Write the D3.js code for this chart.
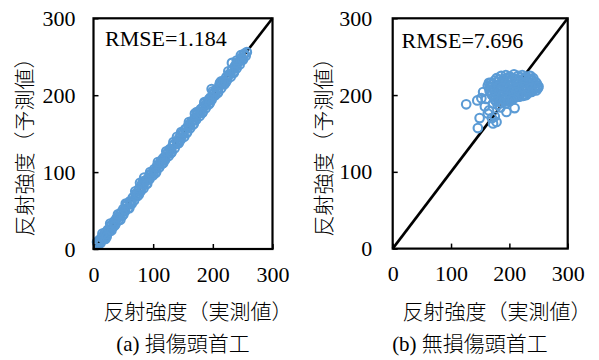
<!DOCTYPE html>
<html>
<head>
<meta charset="utf-8">
<script src="https://cdn.jsdelivr.net/npm/d3@7"></script>
<style>
  body { margin: 0; background: #fff; }
  svg { display: block; }
  text { font-family: "Liberation Serif", "Noto Sans CJK JP", serif; fill: #000; }
  .cjk { font-weight: 300; }
</style>
</head>
<body>
<div id="chart"></div>
<script>
// axis ticks (both panels share 0..300)
const ticks = [0, 100, 200, 300];

// (a) damaged headworks: measured vs predicted intensity
const leftActual = [6, 8, 10, 12, 14, 17, 19, 22, 24, 27, 29, 32, 35, 37, 40, 42, 45, 48, 50, 53,
  55, 58, 61, 63, 66, 68, 71, 74, 76, 79, 81, 84, 87, 89, 92, 94, 97, 100, 102, 105,
  107, 110, 113, 115, 118, 120, 123, 126, 128, 131, 133, 136, 139, 141, 144, 146, 149, 152, 154, 157,
  159, 162, 165, 167, 170, 172, 175, 178, 180, 183, 185, 188, 191, 193, 196, 198, 201, 204, 206, 209,
  211, 214, 217, 219, 222, 224, 227, 230, 232, 235, 237, 240, 243, 245, 248, 250, 253, 255, 257, 198, 232, 186, 212, 247,
  7, 11, 15, 20, 25, 30, 34, 38, 43, 47, 52, 57, 62, 67, 72, 77, 82, 86, 91, 96,
  101, 106, 111, 116, 121, 125, 130, 135, 140, 145, 150, 155, 160, 164, 169, 174, 179, 184, 189, 194,
  199, 203, 208, 213, 218, 223, 228, 233, 238, 242, 247, 252,
  20, 30, 45, 60, 78, 85, 140, 170,
  15, 28, 41, 54, 70, 83, 95, 108, 122, 134, 147, 160, 173, 186, 200, 214, 226, 240,
  22, 36, 50, 64, 76, 90, 104, 117, 130, 143, 156, 168, 182, 195, 208, 222, 236, 250];
const leftPred = [9, 6, 12, 8, 15, 13, 21, 18, 25, 23, 31, 28, 36, 33, 41, 38, 46, 43, 52, 49,
  57, 53, 62, 59, 67, 63, 72, 69, 78, 75, 84, 79, 89, 85, 93, 91, 98, 96, 104, 100,
  109, 106, 114, 111, 119, 116, 124, 121, 130, 126, 135, 131, 140, 137, 145, 142, 151, 146, 156, 152,
  161, 157, 166, 162, 171, 168, 177, 173, 182, 178, 186, 183, 192, 188, 197, 194, 202, 200, 207, 204,
  213, 209, 218, 214, 222, 220, 227, 224, 233, 229, 238, 235, 243, 240, 249, 246, 254, 251, 256, 208, 242, 190, 216, 252,
  7, 10, 16, 19, 24, 30, 33, 39, 42, 48, 51, 57, 61, 67, 71, 78, 81, 87, 90, 97,
  100, 106, 110, 117, 120, 126, 129, 136, 139, 145, 149, 156, 159, 165, 168, 175, 178, 185, 188, 195,
  198, 204, 207, 214, 217, 224, 227, 234, 237, 243, 246, 253,
  13, 24, 38, 53, 86, 93, 146, 176,
  20, 33, 45, 59, 75, 88, 100, 113, 127, 139, 152, 165, 178, 191, 205, 218, 231, 245,
  16, 31, 45, 59, 71, 85, 99, 112, 125, 138, 151, 163, 177, 190, 203, 217, 231, 246];

// (b) undamaged headworks
const rightActual = [186, 194, 201, 208, 215, 222, 229, 236, 241,
  168, 175, 182, 189, 196, 203, 210, 217, 224, 231, 238, 245,
  163, 170, 177, 184, 191, 198, 205, 212, 219, 226, 233, 240, 248,
  166, 173, 180, 187, 194, 201, 208, 215, 222, 229, 236, 243, 249,
  170, 177, 184, 191, 198, 205, 212, 219, 226, 233, 238,
  175, 182, 189, 196, 203, 210, 217, 224,
  172, 180, 187, 194, 201,
  178, 190, 198, 205, 212, 219, 226, 233, 239,
  165, 172, 179, 186, 193, 200, 207, 214, 221, 228, 235, 242, 247,
  166, 174, 181, 188, 195, 202, 209, 216, 223, 230, 237, 244, 250,
  168, 176, 183, 190, 197, 204, 211, 218, 225, 232, 239, 246,
  173, 180, 187, 194, 201, 208, 215, 222, 229,
  177, 184, 191, 198, 205,
  126, 145, 149, 146, 172, 178, 209, 195, 158, 163, 155, 165, 170, 185, 152, 160, 175];
const rightPred = [225, 226, 224, 227, 225, 226, 224, 225, 222,
  216, 219, 220, 218, 221, 219, 220, 218, 221, 219, 220, 217,
  212, 214, 213, 212, 214, 213, 212, 214, 213, 212, 214, 213, 212,
  206, 208, 207, 206, 208, 207, 206, 208, 207, 206, 207, 208, 209,
  200, 202, 201, 200, 202, 201, 200, 202, 201, 203, 204,
  194, 196, 195, 194, 196, 197, 198, 199,
  189, 187, 190, 189, 192,
  222, 221, 223, 222, 221, 223, 222, 221, 220,
  216, 215, 217, 216, 215, 217, 216, 215, 217, 216, 215, 216, 215,
  210, 209, 211, 210, 209, 211, 210, 209, 211, 210, 209, 210, 211,
  204, 203, 205, 204, 203, 205, 204, 203, 205, 204, 205, 206,
  198, 197, 199, 198, 197, 199, 198, 199, 200,
  192, 191, 193, 192, 194,
  188, 193, 170, 157, 163, 165, 183, 178, 185, 176, 204, 180, 170, 184, 196, 195, 172];

const panels = [
  { actual: leftActual, pred: leftPred, rmse: "RMSE=1.184", caption: "(a) 損傷頭首工",
    left: 93.5, top: 18.3, width: 179, height: 230.7, tickPad: 18,
    rmseX: 105, rmseY: 46.5, yTitleX: 31.8, xTitleX: 198, captionX: 183 },
  { actual: rightActual, pred: rightPred, rmse: "RMSE=7.696", caption: "(b) 無損傷頭首工",
    left: 392.7, top: 18.3, width: 175, height: 230.3, tickPad: 20.5,
    rmseX: 401.5, rmseY: 48, yTitleX: 331, xTitleX: 497, captionX: 470 }
];

const svg = d3.select("#chart").append("svg")
  .attr("width", 599).attr("height", 360);

panels.forEach(p => {
  const x = d3.scaleLinear().domain([0, 300]).range([0, p.width]);
  const y = d3.scaleLinear().domain([0, 300]).range([p.height, 0]);
  const g = svg.append("g").attr("transform", `translate(${p.left},${p.top})`);

  // 1:1 line
  g.append("line")
    .attr("x1", x(0)).attr("y1", y(0)).attr("x2", x(300)).attr("y2", y(300))
    .attr("stroke", "#000").attr("stroke-width", 2.6);

  g.append("g").selectAll("circle")
    .data(d3.range(p.actual.length))
    .join("circle")
    .attr("cx", i => x(p.actual[i]))
    .attr("cy", i => y(p.pred[i]))
    .attr("r", 4.3)
    .attr("fill", "none")
    .attr("stroke", "#5b9bd5")
    .attr("stroke-width", 2.1);

  const xAxis = g.append("g").attr("transform", `translate(0,${p.height})`)
    .call(d3.axisBottom(x).tickValues(ticks).tickSizeInner(-5).tickSizeOuter(0).tickPadding(17));
  const yAxis = g.append("g")
    .call(d3.axisLeft(y).tickValues(ticks).tickSizeInner(-5).tickSizeOuter(0).tickPadding(p.tickPad));
  [xAxis, yAxis].forEach(a => {
    a.select(".domain").remove();
    a.selectAll("line").attr("stroke", "#000").attr("stroke-width", 1.5);
    a.selectAll("text").attr("font-size", 22)
      .style("font-family", "'Liberation Serif', serif");
  });

  g.append("rect")
    .attr("width", p.width).attr("height", p.height)
    .attr("fill", "none").attr("stroke", "#000").attr("stroke-width", 2.2);

  g.append("text").attr("x", p.rmseX - p.left).attr("y", p.rmseY - p.top)
    .attr("font-size", 22).text(p.rmse);

  svg.append("text").attr("class", "cjk")
    .attr("transform", `translate(${p.yTitleX},142) rotate(-90)`)
    .attr("text-anchor", "middle").attr("font-size", 21)
    .text("反射強度（予測値）");

  svg.append("text").attr("class", "cjk").attr("x", p.xTitleX).attr("y", 318.5)
    .attr("text-anchor", "middle").attr("font-size", 21)
    .text("反射強度（実測値）");

  svg.append("text").attr("class", "cjk").attr("x", p.captionX).attr("y", 351)
    .attr("text-anchor", "middle").attr("font-size", 21)
    .text(p.caption);
});
</script>
</body>
</html>
